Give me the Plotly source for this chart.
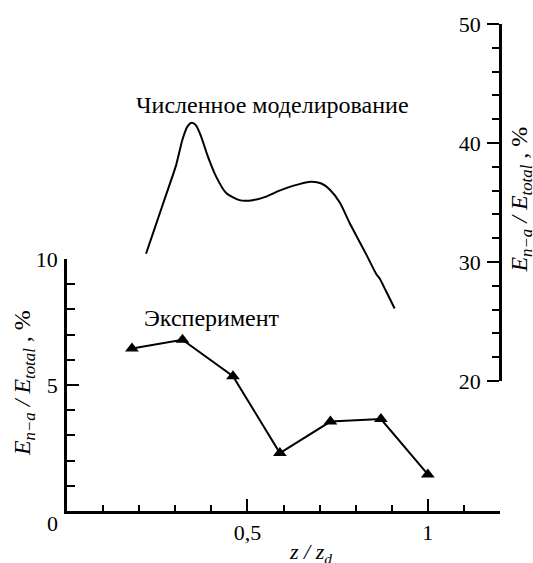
import plotly.graph_objects as go

# Experiment (left axis)
exp_x = [0.18, 0.32, 0.46, 0.59, 0.73, 0.87, 1.0]
exp_y = [6.45, 6.8, 5.35, 2.3, 3.55, 3.65, 1.45]

# Numerical simulation (right axis)
sim_x = [0.219, 0.246, 0.274, 0.302, 0.320, 0.334, 0.346, 0.357, 0.371, 0.390,
         0.413, 0.441, 0.478, 0.515, 0.552, 0.589, 0.626, 0.677, 0.705, 0.728,
         0.756, 0.783, 0.802, 0.830, 0.857, 0.867, 0.885, 0.908]
sim_y = [30.7, 33.1, 35.6, 38.1, 40.3, 41.4, 41.7, 41.5, 40.6, 38.9,
         37.2, 35.8, 35.2, 35.2, 35.5, 36.0, 36.4, 36.75, 36.6, 36.1,
         35.0, 33.3, 32.2, 30.6, 29.0, 28.6, 27.5, 26.1]

x_tickvals = [0.5, 1]
x_ticktext = ["0,5", "1"]
y_tickvals = [5, 10]
y_ticktext = ["5", "10"]
y2_tickvals = [20, 30, 40, 50]
y2_ticktext = ["20", "30", "40", "50"]

FONT = '"Liberation Serif", "DejaVu Serif", serif'
W, H = 533, 563
L, R, T, B = 67, 33, 20, 52
y_top_px = 257     # pixel of left axis value 10
y2_bot_px = 380    # pixel of right axis value 20
plot_h = H - T - B

fig = go.Figure()
fig.add_trace(go.Scatter(x=exp_x, y=exp_y, mode="lines+markers",
                         line=dict(color="black", width=2),
                         marker=dict(symbol="triangle-up", size=12, color="black"),
                         yaxis="y", showlegend=False, cliponaxis=False))
fig.add_trace(go.Scatter(x=sim_x, y=sim_y, mode="lines",
                         line=dict(color="black", width=2, shape="spline", smoothing=0.6),
                         yaxis="y2", showlegend=False))

tickfont = dict(family=FONT, size=22, color="black")
fig.update_layout(
    width=W, height=H,
    margin=dict(l=L, r=R, t=T, b=B),
    paper_bgcolor="white", plot_bgcolor="rgba(0,0,0,0)",
    font=dict(family=FONT, color="black"),
    xaxis=dict(range=[0, 1.2], showgrid=False, zeroline=False,
               showline=True, linecolor="black", linewidth=2.5,
               ticks="inside", ticklen=12, tickwidth=2, tickcolor="black",
               tickmode="array", tickvals=x_tickvals, ticktext=x_ticktext,
               tickfont=tickfont, ticklabelstandoff=0,
               minor=dict(tickmode="linear", tick0=0, dtick=0.1, ticks="inside",
                          ticklen=6, tickwidth=2, tickcolor="black", showgrid=False)),
    yaxis=dict(range=[0, 10], domain=[0, (H - B - y_top_px) / plot_h],
               showgrid=False, zeroline=False,
               showline=True, linecolor="black", linewidth=2.5,
               ticks="inside", ticklen=12, tickwidth=2, tickcolor="black",
               tickmode="array", tickvals=y_tickvals, ticktext=y_ticktext,
               tickfont=tickfont, ticklabelstandoff=2,
               minor=dict(tickmode="linear", tick0=0, dtick=1, ticks="inside",
                          ticklen=8, tickwidth=2, tickcolor="black", showgrid=False)),
    yaxis2=dict(range=[20, 50], domain=[(H - B - y2_bot_px) / plot_h, 1],
                anchor="free", position=1.0, side="left",
                showgrid=False, zeroline=False,
                showline=True, linecolor="black", linewidth=2.5,
                ticks="outside", ticklen=12, tickwidth=2, tickcolor="black",
                tickmode="array", tickvals=y2_tickvals, ticktext=y2_ticktext,
                tickfont=tickfont, ticklabelstandoff=2,
                minor=dict(tickmode="linear", tick0=20, dtick=2, ticks="outside",
                           ticklen=7, tickwidth=2, tickcolor="black", showgrid=False)),
)

title_html = "<i>E</i><sub><i>n−a</i></sub><i> / E</i><sub><i>total</i></sub> , %"
ann = [
    dict(text="0", x=52, y=H - 524, size=22, xa="center"),
    dict(text=title_html, x=24, y=H - 382, textangle=-90, size=24, xa="center"),
    dict(text=title_html, x=521, y=H - 197, textangle=-90, size=24, xa="center"),
    dict(text="<i>z / z</i><sub><i>d</i></sub>", x=287, y=H - 553, size=22, xa="left"),
    dict(text="Численное моделирование", x=134, y=H - 102, size=24, xa="left"),
    dict(text="Эксперимент", x=142, y=H - 316, size=24, xa="left"),
]
annotations = []
for a in ann:
    px, py = a["x"], a["y"]
    annotations.append(dict(
        text=a["text"], showarrow=False,
        xref="paper", yref="paper",
        x=(px - L) / (W - L - R), y=(py - B) / plot_h,
        xanchor=a["xa"], yanchor="middle",
        textangle=a.get("textangle", 0),
        font=dict(family=FONT, size=a["size"], color="black"),
    ))
fig.update_layout(annotations=annotations)

fig.write_html("out.html")
